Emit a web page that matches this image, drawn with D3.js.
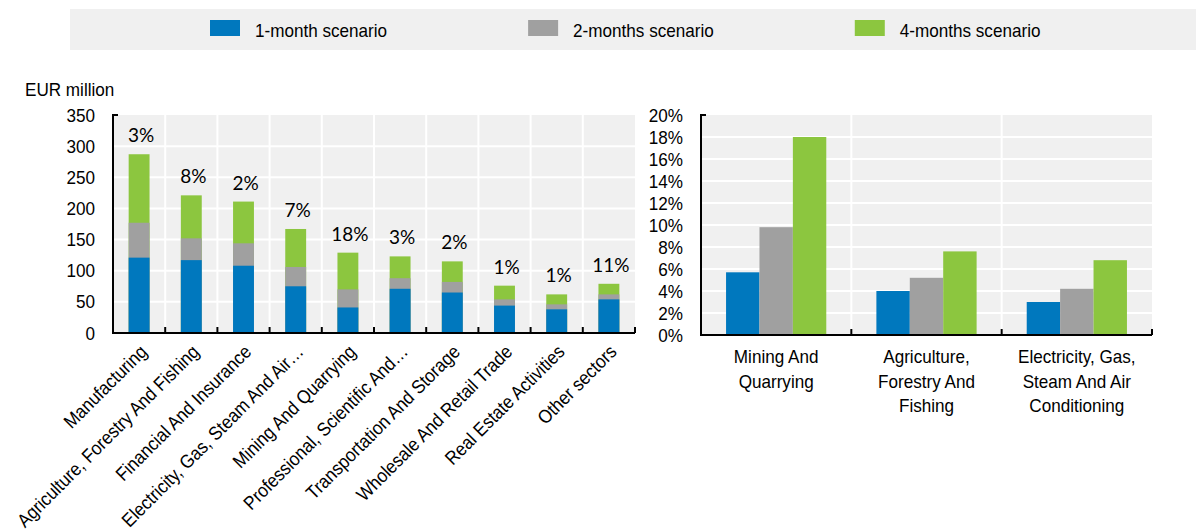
<!DOCTYPE html>
<html>
<head>
<meta charset="utf-8">
<script src="https://cdn.jsdelivr.net/npm/d3@7"></script>
<style>
  html, body { margin: 0; padding: 0; background: #fff; }
  svg text { font-family: "Liberation Sans", Arial, sans-serif; fill: #000; }
</style>
</head>
<body>
<svg id="chart" width="1196" height="529"></svg>
<script>
// ---------- data ----------
const seriesNames = ["1-month scenario", "2-months scenario", "4-months scenario"];
const seriesColors = ["#0078BE", "#A0A0A0", "#8CC63F"];

const categories = [
  "Manufacturing",
  "Agriculture, Forestry And Fishing",
  "Financial And Insurance",
  "Electricity, Gas, Steam And Air\u2026",
  "Mining And Quarrying",
  "Professional, Scientific And\u2026",
  "Transportation And Storage",
  "Wholesale And Retail Trade",
  "Real Estate Activities",
  "Other sectors"
];
const oneMonth   = [121, 117, 108, 75, 41, 71, 65, 44, 38, 54];
const twoMonths  = [177, 152, 144, 106, 70, 88, 82, 54, 46, 62];
const fourMonths = [287, 221, 211, 167, 129, 123, 115, 76, 62, 79];
const shareLabels = ["3%", "8%", "2%", "7%", "18%", "3%", "2%", "1%", "1%", "11%"];
const leftTicks = [0, 50, 100, 150, 200, 250, 300, 350];
const leftUnit = "EUR million";

const rightCategories = [
  ["Mining And", "Quarrying"],
  ["Agriculture,", "Forestry And", "Fishing"],
  ["Electricity, Gas,", "Steam And Air", "Conditioning"]
];
const rightOne  = [5.7, 4.0, 3.0];
const rightTwo  = [9.8, 5.2, 4.2];
const rightFour = [18.0, 7.6, 6.8];
const rightTicks = [0, 2, 4, 6, 8, 10, 12, 14, 16, 18, 20];

// ---------- setup ----------
const svg = d3.select("#chart");
const BG = "#F0F0F0";
const FS = 19;
const SQUEEZE = 0.9;

// condense text horizontally (Arial Narrow look)
function narrow(sel) {
  sel.each(function () {
    const len = this.getComputedTextLength();
    d3.select(this).attr("textLength", len * SQUEEZE).attr("lengthAdjust", "spacingAndGlyphs");
  });
  return sel;
}

// ---------- legend ----------
svg.append("rect").attr("x", 70).attr("y", 9).attr("width", 1126).attr("height", 41).attr("fill", BG);
let lx = 210;
seriesNames.forEach((name, i) => {
  svg.append("rect").attr("x", lx).attr("y", 20).attr("width", 30).attr("height", 16).attr("fill", seriesColors[i]);
  const t = svg.append("text").attr("x", lx + 45).attr("y", 37).attr("font-size", FS).text(name);
  const w = t.node().getComputedTextLength() * SQUEEZE;
  narrow(t);
  lx = lx + 45 + w + 141;
});

// ---------- left chart ----------
const L = { x0: 113, x1: 635, y0: 333, y1: 115 };
const xL = d3.scaleBand().domain(categories).range([L.x0, L.x1]).paddingInner(0).paddingOuter(0);
const yL = d3.scaleLinear().domain([0, 350]).range([L.y0, L.y1]);
const gL = svg.append("g");

gL.append("rect").attr("x", L.x0).attr("y", L.y1).attr("width", L.x1 - L.x0).attr("height", L.y0 - L.y1).attr("fill", BG);
gL.selectAll(".hg").data(leftTicks.filter(d => d > 0 && d < 350)).enter().append("line")
  .attr("x1", L.x0).attr("x2", L.x1).attr("y1", d => yL(d)).attr("y2", d => yL(d))
  .attr("stroke", "#fff").attr("stroke-width", 2);
gL.selectAll(".vg").data(categories.slice(1)).enter().append("line")
  .attr("x1", d => xL(d)).attr("x2", d => xL(d)).attr("y1", L.y1).attr("y2", L.y0)
  .attr("stroke", "#fff").attr("stroke-width", 2);

const bw = xL.bandwidth() * 0.4;
[fourMonths, twoMonths, oneMonth].forEach((vals, k) => {
  const color = seriesColors[2 - k];
  gL.selectAll(".b" + k).data(vals).enter().append("rect")
    .attr("x", (d, i) => xL(categories[i]) + (xL.bandwidth() - bw) / 2)
    .attr("y", d => yL(d))
    .attr("width", bw)
    .attr("height", d => yL(0) - yL(d))
    .attr("fill", color);
});

gL.selectAll(".sl").data(shareLabels).enter().append("text")
  .attr("x", (d, i) => xL(categories[i]) + xL.bandwidth() / 2 + 2)
  .attr("y", (d, i) => yL(fourMonths[i]) - 12)
  .attr("text-anchor", "middle")
  .style("font-family", "Lato, 'Open Sans', sans-serif")
  .attr("font-size", 19)
  .text(d => d);

const axL = d3.axisLeft(yL).tickValues(leftTicks).tickSize(0).tickPadding(18);
const gAxL = gL.append("g").attr("transform", `translate(${L.x0},0)`).call(axL);
gAxL.select(".domain").remove();
narrow(gAxL.selectAll("text").attr("font-size", FS).style("font-family", "'Liberation Sans', Arial, sans-serif").attr("fill", "#000"));
gL.append("path").attr("d", `M${L.x0 + 5},${L.y1}H${L.x0}V${L.y0}H${L.x1}`).attr("fill", "none").attr("stroke", "#000").attr("stroke-width", 2);
gL.selectAll(".bt").data(categories.slice(1).map(c => xL(c)).concat([L.x1])).enter().append("line")
  .attr("x1", d => d).attr("x2", d => d).attr("y1", L.y0).attr("y2", L.y0 - 6)
  .attr("stroke", "#000").attr("stroke-width", 2);
narrow(gL.selectAll(".xl").data(categories).enter().append("text")
  .attr("transform", d => `translate(${xL(d) + xL.bandwidth() / 2 + 9},${L.y0 + 20}) rotate(-45)`)
  .attr("text-anchor", "end")
  .attr("font-size", FS)
  .text(d => d));
narrow(gL.append("text").attr("x", 25).attr("y", 96).attr("font-size", FS).text(leftUnit));

// ---------- right chart ----------
const R = { x0: 701, x1: 1152, y0: 335, y1: 115 };
const groups = rightCategories.map(d => d.join(" "));
const xR = d3.scaleBand().domain(groups).range([R.x0, R.x1]);
const xR1 = d3.scaleBand().domain(seriesNames).range([xR.bandwidth() / 6, xR.bandwidth() * 5 / 6]);
const yR = d3.scaleLinear().domain([0, 20]).range([R.y0, R.y1]);
const gR = svg.append("g");

gR.append("rect").attr("x", R.x0).attr("y", R.y1).attr("width", R.x1 - R.x0).attr("height", R.y0 - R.y1).attr("fill", BG);
gR.selectAll(".hg").data(rightTicks.filter(d => d > 0 && d < 20)).enter().append("line")
  .attr("x1", R.x0).attr("x2", R.x1).attr("y1", d => yR(d)).attr("y2", d => yR(d))
  .attr("stroke", "#fff").attr("stroke-width", 2);
gR.selectAll(".vg").data(groups.slice(1)).enter().append("line")
  .attr("x1", d => xR(d)).attr("x2", d => xR(d)).attr("y1", R.y1).attr("y2", R.y0)
  .attr("stroke", "#fff").attr("stroke-width", 2);

[rightOne, rightTwo, rightFour].forEach((vals, k) => {
  gR.selectAll(".rb" + k).data(vals).enter().append("rect")
    .attr("x", (d, i) => xR(groups[i]) + xR1(seriesNames[k]))
    .attr("y", d => yR(d))
    .attr("width", xR1.bandwidth())
    .attr("height", d => yR(0) - yR(d))
    .attr("fill", seriesColors[k]);
});

const axR = d3.axisLeft(yR).tickValues(rightTicks).tickSize(0).tickPadding(18).tickFormat(d => d + "%");
const gAxR = gR.append("g").attr("transform", `translate(${R.x0},0)`).call(axR);
gAxR.select(".domain").remove();
narrow(gAxR.selectAll("text").attr("font-size", FS).style("font-family", "'Liberation Sans', Arial, sans-serif").attr("fill", "#000"));
gR.append("path").attr("d", `M${R.x0 + 5},${R.y1}H${R.x0}V${R.y0}H${R.x1}`).attr("fill", "none").attr("stroke", "#000").attr("stroke-width", 2);
gR.selectAll(".bt").data(groups.slice(1).map(c => xR(c)).concat([R.x1])).enter().append("line")
  .attr("x1", d => d).attr("x2", d => d).attr("y1", R.y0).attr("y2", R.y0 - 6)
  .attr("stroke", "#000").attr("stroke-width", 2);

rightCategories.forEach((lines, i) => {
  const cx = xR(groups[i]) + xR.bandwidth() / 2;
  lines.forEach((ln, j) => {
    narrow(gR.append("text").attr("text-anchor", "middle").attr("font-size", FS)
      .attr("x", cx).attr("y", 363 + j * 24.5).text(ln));
  });
});
</script>
</body>
</html>
